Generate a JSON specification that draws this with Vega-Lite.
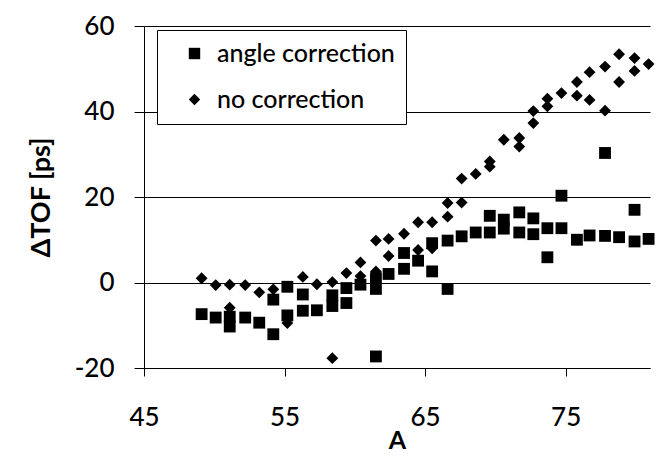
{
  "$schema": "https://vega.github.io/schema/vega-lite/v6.json",
  "width": 506,
  "height": 342,
  "autosize": {"type": "none"},
  "padding": {"left": 144, "top": 26, "right": 16, "bottom": 91},
  "background": "white",
  "config": {
    "view": {"stroke": null},
    "font": "Lato",
    "axis": {
      "domainColor": "black",
      "tickColor": "black",
      "labelColor": "black",
      "titleColor": "black",
      "labelFont": "Lato",
      "titleFont": "Lato",
      "labelFontSize": 26,
      "labelFontWeight": 500,
      "titleFontSize": 25,
      "titleFontWeight": "bold",
      "labelExpr": "replace(datum.label, '−', '-')"
    }
  },
  "data": {
    "values": [
      {"A": 49.1, "dTOF": -7.4, "series": "angle correction"},
      {"A": 50.1, "dTOF": -8.2, "series": "angle correction"},
      {"A": 51.1, "dTOF": -8.0, "series": "angle correction"},
      {"A": 51.1, "dTOF": -10.3, "series": "angle correction"},
      {"A": 52.2, "dTOF": -8.2, "series": "angle correction"},
      {"A": 53.2, "dTOF": -9.4, "series": "angle correction"},
      {"A": 54.2, "dTOF": -12.1, "series": "angle correction"},
      {"A": 54.2, "dTOF": -4.0, "series": "angle correction"},
      {"A": 55.2, "dTOF": -1.0, "series": "angle correction"},
      {"A": 55.2, "dTOF": -7.7, "series": "angle correction"},
      {"A": 56.3, "dTOF": -2.8, "series": "angle correction"},
      {"A": 56.3, "dTOF": -6.6, "series": "angle correction"},
      {"A": 57.3, "dTOF": -6.5, "series": "angle correction"},
      {"A": 58.4, "dTOF": -3.0, "series": "angle correction"},
      {"A": 58.4, "dTOF": -5.5, "series": "angle correction"},
      {"A": 59.4, "dTOF": -1.3, "series": "angle correction"},
      {"A": 59.4, "dTOF": -4.8, "series": "angle correction"},
      {"A": 60.4, "dTOF": -0.5, "series": "angle correction"},
      {"A": 61.5, "dTOF": 1.0, "series": "angle correction"},
      {"A": 61.5, "dTOF": -1.5, "series": "angle correction"},
      {"A": 61.5, "dTOF": -17.3, "series": "angle correction"},
      {"A": 62.4, "dTOF": 2.0, "series": "angle correction"},
      {"A": 63.5, "dTOF": 6.9, "series": "angle correction"},
      {"A": 63.5, "dTOF": 3.2, "series": "angle correction"},
      {"A": 64.5, "dTOF": 5.1, "series": "angle correction"},
      {"A": 65.5, "dTOF": 9.2, "series": "angle correction"},
      {"A": 65.5, "dTOF": 2.6, "series": "angle correction"},
      {"A": 66.6, "dTOF": 9.8, "series": "angle correction"},
      {"A": 66.6, "dTOF": -1.5, "series": "angle correction"},
      {"A": 67.6, "dTOF": 10.8, "series": "angle correction"},
      {"A": 68.6, "dTOF": 11.7, "series": "angle correction"},
      {"A": 69.6, "dTOF": 15.6, "series": "angle correction"},
      {"A": 69.6, "dTOF": 11.7, "series": "angle correction"},
      {"A": 70.6, "dTOF": 14.7, "series": "angle correction"},
      {"A": 70.6, "dTOF": 12.6, "series": "angle correction"},
      {"A": 71.7, "dTOF": 16.4, "series": "angle correction"},
      {"A": 71.7, "dTOF": 11.7, "series": "angle correction"},
      {"A": 72.7, "dTOF": 15.0, "series": "angle correction"},
      {"A": 72.7, "dTOF": 11.3, "series": "angle correction"},
      {"A": 73.7, "dTOF": 12.7, "series": "angle correction"},
      {"A": 73.7, "dTOF": 5.9, "series": "angle correction"},
      {"A": 74.7, "dTOF": 20.3, "series": "angle correction"},
      {"A": 74.7, "dTOF": 12.7, "series": "angle correction"},
      {"A": 75.8, "dTOF": 10.0, "series": "angle correction"},
      {"A": 76.7, "dTOF": 11.0, "series": "angle correction"},
      {"A": 77.8, "dTOF": 30.3, "series": "angle correction"},
      {"A": 77.8, "dTOF": 10.9, "series": "angle correction"},
      {"A": 78.8, "dTOF": 10.6, "series": "angle correction"},
      {"A": 79.9, "dTOF": 17.0, "series": "angle correction"},
      {"A": 79.9, "dTOF": 9.6, "series": "angle correction"},
      {"A": 80.9, "dTOF": 10.2, "series": "angle correction"},
      {"A": 49.1, "dTOF": 1.0, "series": "no correction"},
      {"A": 50.1, "dTOF": -0.6, "series": "no correction"},
      {"A": 51.1, "dTOF": -0.5, "series": "no correction"},
      {"A": 51.1, "dTOF": -5.9, "series": "no correction"},
      {"A": 52.2, "dTOF": -0.6, "series": "no correction"},
      {"A": 53.2, "dTOF": -2.3, "series": "no correction"},
      {"A": 54.2, "dTOF": -1.6, "series": "no correction"},
      {"A": 55.2, "dTOF": -9.5, "series": "no correction"},
      {"A": 56.3, "dTOF": 1.3, "series": "no correction"},
      {"A": 57.3, "dTOF": -0.4, "series": "no correction"},
      {"A": 58.4, "dTOF": 0.1, "series": "no correction"},
      {"A": 58.4, "dTOF": -17.7, "series": "no correction"},
      {"A": 59.4, "dTOF": 2.2, "series": "no correction"},
      {"A": 60.4, "dTOF": 4.7, "series": "no correction"},
      {"A": 60.4, "dTOF": 1.5, "series": "no correction"},
      {"A": 61.5, "dTOF": 9.8, "series": "no correction"},
      {"A": 61.5, "dTOF": 2.6, "series": "no correction"},
      {"A": 62.4, "dTOF": 10.2, "series": "no correction"},
      {"A": 62.4, "dTOF": 6.2, "series": "no correction"},
      {"A": 63.5, "dTOF": 11.4, "series": "no correction"},
      {"A": 64.5, "dTOF": 14.1, "series": "no correction"},
      {"A": 64.5, "dTOF": 7.6, "series": "no correction"},
      {"A": 65.5, "dTOF": 14.1, "series": "no correction"},
      {"A": 65.5, "dTOF": 8.0, "series": "no correction"},
      {"A": 66.6, "dTOF": 18.6, "series": "no correction"},
      {"A": 66.6, "dTOF": 15.4, "series": "no correction"},
      {"A": 67.6, "dTOF": 18.7, "series": "no correction"},
      {"A": 67.6, "dTOF": 24.3, "series": "no correction"},
      {"A": 68.6, "dTOF": 25.4, "series": "no correction"},
      {"A": 69.6, "dTOF": 28.3, "series": "no correction"},
      {"A": 69.6, "dTOF": 27.1, "series": "no correction"},
      {"A": 70.6, "dTOF": 33.4, "series": "no correction"},
      {"A": 71.7, "dTOF": 33.8, "series": "no correction"},
      {"A": 71.7, "dTOF": 31.8, "series": "no correction"},
      {"A": 72.7, "dTOF": 40.1, "series": "no correction"},
      {"A": 72.7, "dTOF": 37.3, "series": "no correction"},
      {"A": 73.7, "dTOF": 43.0, "series": "no correction"},
      {"A": 73.7, "dTOF": 41.2, "series": "no correction"},
      {"A": 74.7, "dTOF": 44.3, "series": "no correction"},
      {"A": 75.8, "dTOF": 46.9, "series": "no correction"},
      {"A": 75.8, "dTOF": 43.7, "series": "no correction"},
      {"A": 76.7, "dTOF": 42.7, "series": "no correction"},
      {"A": 76.7, "dTOF": 49.2, "series": "no correction"},
      {"A": 77.8, "dTOF": 50.5, "series": "no correction"},
      {"A": 77.8, "dTOF": 40.2, "series": "no correction"},
      {"A": 78.8, "dTOF": 53.4, "series": "no correction"},
      {"A": 78.8, "dTOF": 46.9, "series": "no correction"},
      {"A": 79.9, "dTOF": 52.5, "series": "no correction"},
      {"A": 79.9, "dTOF": 49.5, "series": "no correction"},
      {"A": 80.9, "dTOF": 51.1, "series": "no correction"}
    ]
  },
  "mark": {"type": "point", "filled": true, "opacity": 1, "color": "black", "size": 140},
  "encoding": {
    "x": {
      "field": "A",
      "type": "quantitative",
      "title": "A",
      "scale": {"domain": [45, 81], "nice": false, "zero": false},
      "axis": {
        "values": [45, 55, 65, 75],
        "grid": false,
        "tickSize": 8,
        "labelPadding": 28,
        "titlePadding": -2,
        "labelFlush": false
      }
    },
    "y": {
      "field": "dTOF",
      "type": "quantitative",
      "title": "ΔTOF [ps]",
      "scale": {"domain": [-20, 60], "nice": false},
      "axis": {
        "values": [-20, 0, 20, 40, 60],
        "grid": true,
        "gridColor": "black",
        "gridWidth": 1,
        "gridOpacity": 1,
        "tickSize": 10,
        "labelPadding": 20,
        "titlePadding": 19,
        "titleFontSize": 27
      }
    },
    "shape": {
      "field": "series",
      "type": "nominal",
      "scale": {"domain": ["angle correction", "no correction"], "range": ["square", "diamond"]},
      "legend": {
        "title": null,
        "orient": "none",
        "legendX": 13,
        "legendY": 4,
        "strokeColor": "black",
        "fillColor": "white",
        "padding": 11,
        "symbolOffset": 14,
        "labelOffset": 10,
        "labelFont": "Lato",
        "labelFontSize": 25,
        "labelFontWeight": 500,
        "labelColor": "black",
        "labelLimit": 400,
        "symbolSize": 130,
        "symbolFillColor": "black",
        "symbolStrokeColor": "black",
        "rowPadding": 20
      }
    }
  }
}
